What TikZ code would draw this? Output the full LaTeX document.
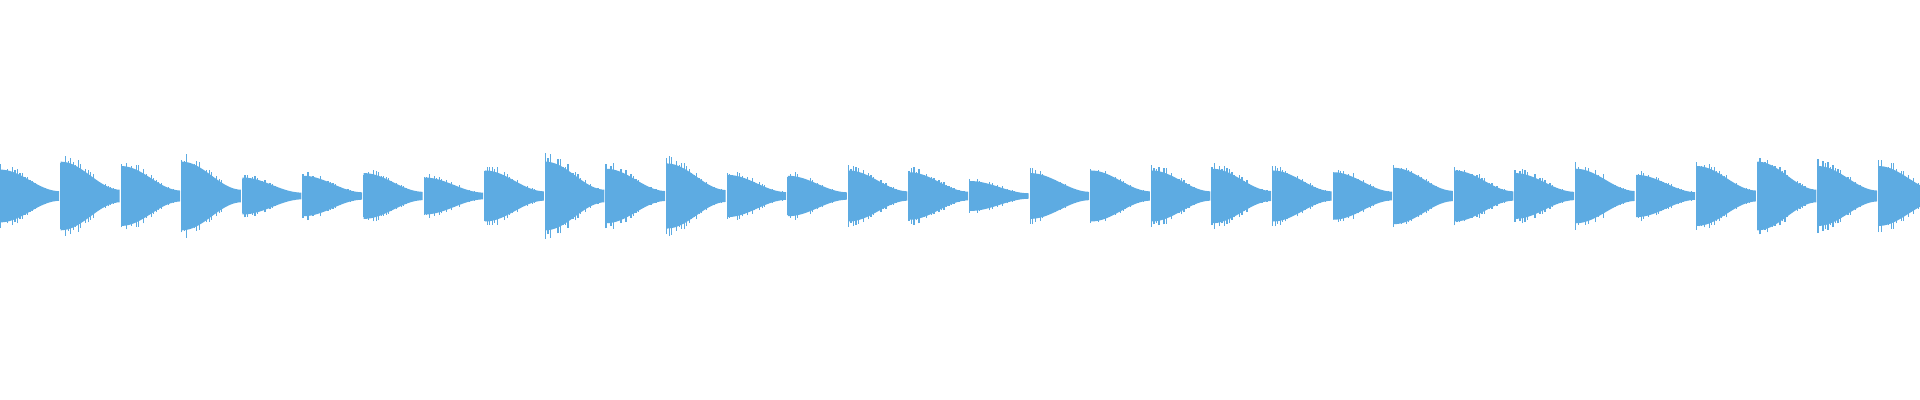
\documentclass[tikz,border=0pt]{standalone}
\definecolor{wavecol}{RGB}{93,171,226}
\tikzset{
  core/.style={fill=wavecol},
  spike/.style={draw=wavecol,line width=0.012cm}
}
\begin{document}
\begin{tikzpicture}[x=0.01cm,y=0.01cm]
\useasboundingbox (0,0) rectangle (1920,400);
\pgfmathsetseed{7}
% one burst per note: peak height, decaying to the next one
\foreach \A [count=\i] in {30,39,34,39,21,23,26,21,29,39,31,37,24,23,29,27,17,26,29,29,31,29,27,32,29,26,31,24,34,39,34,34}{
  \pgfmathsetmacro\xo{(\i-1)*60.6}
  \fill[core] plot[domain=0:59,samples=24] ({\xo+\x},{204+\A*(0.16+0.36*(1+cos(180*\x/60)))})
    -- plot[domain=59:0,samples=24] ({\xo+\x},{204-\A*(0.16+0.36*(1+cos(180*\x/60)))}) -- cycle;
  \foreach \t in {0,2.5,...,57}{
    \pgfmathsetmacro\h{\A*(0.16+0.42*(1+cos(180*\t/60)))*(0.8+0.3*rnd)}
    \draw[spike] (\xo+\t,204-\h) -- (\xo+\t,204+\h);
  }
}
\end{tikzpicture}
\end{document}
